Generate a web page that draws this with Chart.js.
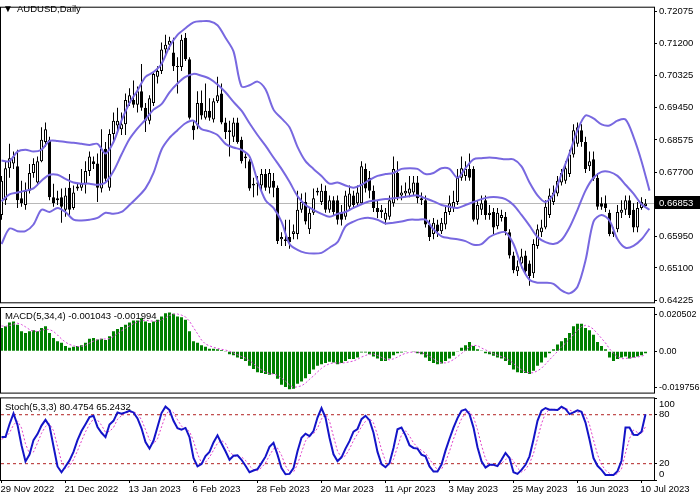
<!DOCTYPE html>
<html>
<head>
<meta charset="utf-8">
<script src="https://cdn.jsdelivr.net/npm/chart.js@4.4.0/dist/chart.umd.min.js"></script>
<style>
html, body { margin: 0; padding: 0; background: #fff; }
#wrap { position: relative; width: 700px; height: 500px; overflow: hidden; }
canvas { position: absolute; left: 0; }
</style>
</head>
<body>
<div id="wrap">
  <canvas id="main" width="700" height="310" style="top:0px"></canvas>
  <canvas id="macd" width="700" height="100" style="top:300px"></canvas>
  <canvas id="stoch" width="700" height="115" style="top:385px"></canvas>
</div>
<script>
// ---- data ----
const dateLabels = ['29 Nov 2022', '21 Dec 2022', '13 Jan 2023', '6 Feb 2023', '28 Feb 2023', '20 Mar 2023',
  '11 Apr 2023', '3 May 2023', '25 May 2023', '16 Jun 2023', '10 Jul 2023'];
const dateTickIdx = [0, 16, 32, 48, 64, 80, 96, 112, 128, 144, 160];

const priceTicks = [0.72075, 0.71200, 0.70325, 0.69450, 0.68575, 0.67700, 0.65950, 0.65100, 0.64225];
const lastPrice = 0.66853;

const opens = [.6654,.6694,.6781,.6794,.6786,.6699,.6681,.6720,.6768,.6742,
  .6800,.6852,.6858,.6702,.6694,.6702,.6668,.6728,.6673,.6726,
  .6728,.6739,.6773,.6800,.6794,.6726,.6834,.6728,.6874,.6897,
  .6887,.6900,.6958,.6966,.6953,.6990,.6945,.6910,.6958,.7029,
  .7045,.7103,.7116,.7095,.7058,.7056,.7135,.7077,.6897,.6897,
  .6958,.6918,.6937,.6913,.6963,.6984,.6905,.6884,.6866,.6905,
  .6858,.6808,.6800,.6734,.6739,.6734,.6765,.6728,.6747,.6728,
  .6588,.6588,.6594,.6602,.6602,.6668,.6689,.6615,.6660,.6715,
  .6689,.6720,.6668,.6694,.6694,.6660,.6649,.6676,.6707,.6686,
  .6686,.6779,.6755,.6720,.6673,.6662,.6641,.6649,.6686,.6768,
  .6707,.6712,.6712,.6715,.6742,.6699,.6694,.6628,.6602,.6628,
  .6610,.6628,.6662,.6673,.6689,.6755,.6760,.6779,.6779,.6641,
  .6668,.6694,.6654,.6662,.6623,.6646,.6649,.6607,.6544,.6501,
  .6522,.6544,.6522,.6496,.6570,.6607,.6620,.6654,.6689,.6712,
  .6742,.6747,.6765,.6818,.6847,.6884,.6852,.6786,.6805,.6755,
  .6686,.6686,.6660,.6610,.6615,.6660,.6668,.6694,.6668,.6620,
  .6673,.6678];
const highs = [.6760,.6800,.6847,.6826,.6831,.6747,.6742,.6792,.6808,.6813,
  .6892,.6905,.6866,.6739,.6720,.6726,.6728,.6765,.6734,.6739,
  .6779,.6800,.6826,.6813,.6821,.6887,.6852,.6887,.6932,.6945,
  .6932,.6984,.6998,.7019,.7003,.7064,.6958,.6979,.7045,.7058,
  .7122,.7143,.7138,.7135,.7082,.7143,.7148,.7082,.6910,.6990,
  .6992,.7011,.6971,.6971,.7029,.7011,.6918,.6910,.6918,.6918,
  .6866,.6821,.6805,.6755,.6760,.6779,.6779,.6779,.6768,.6734,
  .6607,.6641,.6641,.6628,.6720,.6712,.6715,.6673,.6726,.6728,
  .6739,.6734,.6707,.6705,.6707,.6681,.6720,.6734,.6720,.6734,
  .6800,.6794,.6773,.6734,.6694,.6681,.6673,.6707,.6813,.6800,
  .6734,.6742,.6760,.6760,.6760,.6715,.6707,.6641,.6646,.6641,
  .6646,.6681,.6707,.6720,.6779,.6813,.6800,.6821,.6786,.6694,
  .6707,.6707,.6681,.6673,.6673,.6668,.6662,.6615,.6554,.6530,
  .6562,.6557,.6530,.6588,.6628,.6641,.6694,.6726,.6734,.6760,
  .6779,.6800,.6831,.6900,.6905,.6900,.6866,.6826,.6826,.6768,
  .6702,.6707,.6668,.6620,.6681,.6694,.6707,.6707,.6686,.6689,
  .6702,.6697];
const lows = [.6641,.6681,.6755,.6779,.6673,.6676,.6668,.6712,.6755,.6734,
  .6797,.6839,.6694,.6676,.6681,.6633,.6649,.6654,.6668,.6720,
  .6720,.6712,.6760,.6779,.6689,.6715,.6742,.6720,.6852,.6884,
  .6871,.6871,.6950,.6945,.6932,.6937,.6879,.6900,.6950,.7011,
  .7037,.7090,.7103,.7045,.6984,.7045,.7072,.6913,.6858,.6887,
  .6913,.6913,.6910,.6905,.6958,.6900,.6860,.6813,.6852,.6847,
  .6794,.6781,.6720,.6702,.6707,.6720,.6720,.6712,.6702,.6575,
  .6570,.6570,.6562,.6588,.6588,.6660,.6628,.6602,.6654,.6707,
  .6681,.6660,.6660,.6654,.6628,.6625,.6641,.6668,.6673,.6676,
  .6681,.6715,.6699,.6662,.6646,.6646,.6628,.6641,.6676,.6694,
  .6694,.6702,.6702,.6707,.6686,.6681,.6620,.6583,.6588,.6594,
  .6602,.6615,.6654,.6662,.6681,.6747,.6747,.6747,.6636,.6628,
  .6654,.6641,.6641,.6602,.6615,.6636,.6599,.6536,.6496,.6488,
  .6509,.6493,.6462,.6483,.6562,.6594,.6615,.6646,.6681,.6705,
  .6734,.6739,.6757,.6810,.6839,.6839,.6768,.6773,.6747,.6668,
  .6668,.6662,.6596,.6594,.6607,.6646,.6654,.6646,.6607,.6607,
  .6668,.6673];
const closes = [.6747,.6781,.6808,.6813,.6694,.6686,.6720,.6768,.6792,.6800,
  .6858,.6887,.6702,.6686,.6699,.6676,.6707,.6668,.6715,.6731,
  .6739,.6773,.6813,.6792,.6728,.6834,.6752,.6874,.6910,.6910,
  .6900,.6966,.6979,.6953,.6990,.6945,.6910,.6971,.7037,.7045,
  .7103,.7116,.7127,.7058,.7056,.7130,.7077,.6918,.6884,.6958,
  .6924,.6937,.6918,.6963,.6979,.6905,.6879,.6879,.6905,.6852,
  .6800,.6813,.6726,.6739,.6742,.6765,.6728,.6768,.6728,.6583,
  .6594,.6583,.6580,.6610,.6668,.6689,.6636,.6660,.6699,.6720,
  .6720,.6668,.6694,.6662,.6641,.6641,.6707,.6712,.6681,.6715,
  .6786,.6726,.6720,.6673,.6662,.6668,.6660,.6694,.6779,.6702,
  .6715,.6720,.6726,.6742,.6699,.6694,.6628,.6594,.6633,.6610,
  .6633,.6662,.6686,.6689,.6755,.6781,.6779,.6755,.6641,.6681,
  .6686,.6654,.6660,.6620,.6660,.6654,.6610,.6544,.6504,.6515,
  .6541,.6501,.6488,.6575,.6615,.6620,.6676,.6707,.6715,.6747,
  .6768,.6781,.6818,.6884,.6892,.6852,.6779,.6800,.6752,.6676,
  .6676,.6673,.6602,.6602,.6662,.6668,.6694,.6654,.6620,.6673,
  .6689,.66853];

// Bollinger bands, read every 2nd bar (bar 0, 2, 4 ... 162)
const BAND_STEP = 2;
const bandUpper = [.6802,.6800,.6826,.6831,.6826,.6831,.6855,.6855,.6852,.6850,
  .6847,.6844,.6847,.6821,.6852,.6910,.6958,.6992,.7029,.7042,
  .7064,.7111,.7143,.7161,.7177,.7180,.7180,.7169,.7135,.7098,
  .7003,.7006,.7016,.6995,.6940,.6916,.6892,.6839,.6800,.6779,
  .6760,.6739,.6742,.6734,.6728,.6736,.6749,.6760,.6765,.6768,
  .6779,.6781,.6779,.6765,.6768,.6781,.6779,.6755,.6781,.6805,
  .6808,.6810,.6808,.6805,.6805,.6786,.6742,.6707,.6689,.6710,
  .6765,.6821,.6884,.6924,.6916,.6900,.6897,.6910,.6913,.6866,
  .6800,.6720];
const bandMiddle = [.6691,.6710,.6715,.6720,.6726,.6747,.6763,.6763,.6752,.6742,
  .6739,.6739,.6736,.6742,.6773,.6818,.6860,.6889,.6913,.6940,
  .6955,.6987,.7011,.7029,.7037,.7032,.7024,.7008,.6987,.6961,
  .6937,.6903,.6871,.6842,.6810,.6779,.6744,.6705,.6681,.6668,
  .6657,.6649,.6657,.6662,.6673,.6683,.6691,.6694,.6697,.6699,
  .6702,.6705,.6707,.6699,.6691,.6681,.6676,.6673,.6681,.6689,
  .6697,.6702,.6702,.6697,.6681,.6654,.6625,.6594,.6580,.6575,
  .6586,.6620,.6668,.6720,.6755,.6771,.6771,.6760,.6736,.6712,
  .6683,.6668];
const bandLower = [.6575,.6617,.6610,.6610,.6628,.6668,.6662,.6673,.6662,.6641,
  .6639,.6641,.6646,.6660,.6657,.6662,.6681,.6702,.6726,.6768,
  .6831,.6863,.6884,.6903,.6910,.6887,.6881,.6871,.6847,.6837,
  .6831,.6813,.6747,.6694,.6673,.6636,.6575,.6559,.6551,.6549,
  .6551,.6565,.6580,.6623,.6636,.6644,.6646,.6641,.6631,.6633,
  .6636,.6641,.6641,.6641,.6615,.6596,.6591,.6588,.6583,.6573,
  .6575,.6594,.6604,.6607,.6575,.6515,.6478,.6470,.6470,.6467,
  .6449,.6441,.6459,.6530,.6636,.6654,.6639,.6588,.6565,.6570,
  .6588,.6617];

const macdHist = [0.0129,0.0138,0.0159,0.0165,0.0147,0.0111,0.0101,0.0111,0.0116,0.0111,
  0.0129,0.0138,0.0101,0.0074,0.0056,0.0047,0.0029,0.0020,0.0025,0.0029,
  0.0033,0.0047,0.0069,0.0074,0.0065,0.0069,0.0062,0.0083,0.0111,0.0123,
  0.0134,0.0147,0.0159,0.0170,0.0170,0.0183,0.0165,0.0156,0.0165,0.0174,
  0.0192,0.0210,0.0214,0.0207,0.0192,0.0188,0.0174,0.0111,0.0056,0.0047,
  0.0033,0.0025,0.0014,0.0014,0.0011,0.0007,-0.0004,-0.0016,-0.0022,-0.0034,
  -0.0043,-0.0053,-0.0080,-0.0098,-0.0116,-0.0120,-0.0125,-0.0130,-0.0125,-0.0152,
  -0.0185,-0.0197,-0.0210,-0.0207,-0.0179,-0.0167,-0.0149,-0.0125,-0.0101,-0.0080,
  -0.0071,-0.0065,-0.0058,-0.0062,-0.0071,-0.0065,-0.0053,-0.0043,-0.0043,-0.0034,
  -0.0007,-0.0007,-0.0016,-0.0029,-0.0040,-0.0053,-0.0053,-0.0040,-0.0022,-0.0011,
  -0.0007,-0.0004,-0.0002,-0.0004,-0.0011,-0.0016,-0.0034,-0.0053,-0.0065,-0.0071,
  -0.0067,-0.0053,-0.0040,-0.0025,-0.0004,0.0020,0.0033,0.0051,0.0029,0.0011,
  0.0002,-0.0011,-0.0016,-0.0025,-0.0034,-0.0040,-0.0053,-0.0076,-0.0101,-0.0116,
  -0.0120,-0.0120,-0.0125,-0.0107,-0.0080,-0.0062,-0.0034,-0.0011,0.0011,0.0038,
  0.0056,0.0074,0.0101,0.0138,0.0152,0.0152,0.0129,0.0116,0.0092,0.0051,
  0.0029,0.0011,-0.0034,-0.0053,-0.0043,-0.0034,-0.0029,-0.0040,-0.0034,-0.0029,
  -0.0022,-0.001043];
const macdSignal = [0.0140,0.0138,0.0142,0.0150,0.0155,0.0148,0.0135,0.0120,0.0110,0.0110,
  0.0115,0.0122,0.0120,0.0110,0.0090,0.0068,0.0050,0.0038,0.0030,0.0026,
  0.0027,0.0033,0.0045,0.0056,0.0064,0.0068,0.0068,0.0070,0.0082,0.0097,
  0.0113,0.0128,0.0140,0.0153,0.0162,0.0170,0.0172,0.0168,0.0167,0.0165,
  0.0172,0.0185,0.0198,0.0206,0.0206,0.0200,0.0190,0.0166,0.0131,0.0097,
  0.0062,0.0040,0.0030,0.0022,0.0016,0.0011,0.0007,0.0000,-0.0009,-0.0019,
  -0.0029,-0.0038,-0.0052,-0.0068,-0.0087,-0.0103,-0.0115,-0.0123,-0.0125,-0.0133,
  -0.0148,-0.0165,-0.0186,-0.0200,-0.0196,-0.0191,-0.0176,-0.0155,-0.0136,-0.0114,
  -0.0094,-0.0079,-0.0069,-0.0064,-0.0064,-0.0065,-0.0063,-0.0058,-0.0054,-0.0044,
  -0.0032,-0.0023,-0.0016,-0.0015,-0.0023,-0.0034,-0.0044,-0.0047,-0.0042,-0.0032,
  -0.0020,-0.0011,-0.0006,-0.0004,-0.0005,-0.0008,-0.0016,-0.0028,-0.0042,-0.0056,
  -0.0064,-0.0064,-0.0058,-0.0046,-0.0030,-0.0012,0.0006,0.0025,0.0033,0.0031,
  0.0018,0.0008,-0.0003,-0.0013,-0.0022,-0.0029,-0.0038,-0.0051,-0.0067,-0.0087,
  -0.0103,-0.0114,-0.0120,-0.0118,-0.0108,-0.0094,-0.0071,-0.0047,-0.0024,-0.0001,
  0.0024,0.0045,0.0067,0.0092,0.0116,0.0136,0.0143,0.0137,0.0122,0.0097,
  0.0072,0.0046,0.0014,-0.0012,-0.0030,-0.0041,-0.0040,-0.0036,-0.0035,-0.0032,
  -0.0027,-0.001994];
const macdTicks = [0.020502, 0, -0.019756];
const macdTickLabels = ['0.020502', '0.00', '-0.019756'];

const stochMain = [52.6,52.6,68.3,81.6,67.5,42.6,22.8,31.1,48.9,56.3,
  66.7,73.7,66.3,41.4,16.6,9.5,16.6,24.0,34.4,48.9,
  60.0,68.3,77.0,78.7,65.0,57.9,52.6,67.9,72.5,82.8,
  81.2,82.8,84.9,82.8,75.4,63.4,46.4,38.5,48.0,65.0,
  82.0,89.9,85.7,72.5,63.4,61.7,63.8,52.6,26.9,16.6,
  19.5,29.4,34.4,46.0,54.7,44.7,35.2,24.8,29.8,30.2,
  24.8,17.4,9.5,11.6,13.3,20.7,28.6,40.6,45.5,31.1,
  14.5,7.0,7.5,14.5,35.2,51.8,56.7,53.8,60.0,76.6,
  88.2,76.6,51.8,31.5,23.2,27.8,38.5,47.6,59.2,62.5,
  74.5,78.7,73.3,58.0,34.4,19.5,15.7,20.7,39.3,62.1,
  64.2,54.7,42.6,39.3,38.5,31.1,29.0,16.6,10.4,10.4,
  19.0,36.0,50.5,64.2,75.8,84.9,86.5,80.7,64.2,40.2,
  22.8,15.3,18.6,18.6,17.0,24.8,33.1,26.9,9.5,7.5,
  12.4,18.6,29.0,49.7,72.5,84.9,88.2,86.1,86.1,85.7,
  89.9,87.0,80.7,82.8,85.3,83.6,70.4,49.7,26.9,17.4,
  12.4,6.2,6.2,6.2,10.8,23.6,64.2,64.2,55.5,55.1,
  59.2,80.4754];
const stochSignal = [50.0,52.0,57.8,67.5,72.5,63.9,44.3,32.2,34.3,45.4,
  57.3,65.6,68.9,60.5,41.4,22.5,14.2,16.7,25.0,35.8,
  47.8,59.1,68.4,74.7,73.6,67.2,58.5,59.5,64.3,74.4,
  78.8,82.3,83.0,83.5,81.0,73.9,61.7,49.4,44.3,50.5,
  65.0,79.0,85.9,82.7,73.9,65.9,63.0,59.4,47.8,32.0,
  21.0,21.8,27.8,36.6,45.0,48.5,44.9,34.9,29.9,28.3,
  28.3,24.1,17.2,12.8,11.5,15.2,20.9,30.0,38.2,39.1,
  30.4,17.5,9.7,9.7,19.1,33.8,47.9,54.1,56.8,63.5,
  74.9,80.5,72.2,53.3,35.5,27.5,29.8,38.0,48.4,56.4,
  65.4,71.9,75.5,70.0,55.2,37.3,23.2,18.6,25.2,40.7,
  55.2,60.3,53.8,45.5,40.1,36.3,32.9,25.6,18.7,12.5,
  13.3,21.8,35.2,50.2,63.5,75.0,82.4,84.0,77.1,61.7,
  42.4,26.1,18.9,17.5,18.1,20.1,25.0,28.3,23.2,14.6,
  9.8,12.8,20.0,32.4,50.4,69.0,81.9,86.4,86.8,86.0,
  87.2,87.5,85.9,83.5,82.9,83.9,79.8,67.9,49.0,31.3,
  18.9,12.0,8.3,6.2,7.7,13.5,32.9,50.7,61.3,58.3,
  56.6,65.2432];
const stochTicks = [100, 80, 20, 0];
const stochLevels = [80, 20];

// ---- look ----
const FONT = "'Liberation Sans', Arial, 'DejaVu Sans', sans-serif";
const FS = 9.5;
const X_MIN = -0.125, X_MAX = 163.125;
const P_MAX = 0.72167, P_MIN = 0.64168;
const M_MAX = 0.023913, M_MIN = -0.022826;
const BAND = '#7868e0';

const idx = closes.map((_, i) => i);

function xScale(show) {
  const s = {
    type: 'linear', min: X_MIN, max: X_MAX, offset: false, bounds: 'data',
    display: show,
    grid: { drawOnChartArea: false, drawTicks: true, tickLength: 3, color: '#000' },
    border: { display: false }
  };
  if (show) {
    s.afterBuildTicks = sc => { sc.ticks = dateTickIdx.map(v => ({ value: v })); };
    s.afterFit = sc => { sc.height = 20; sc.paddingLeft = 0; sc.paddingRight = 0; };
    s.ticks = {
      autoSkip: false, maxRotation: 0, minRotation: 0, align: 'start', labelOffset: -1,
      padding: 1, color: '#000', font: { family: FONT, size: FS },
      callback: (v, i) => dateLabels[i]
    };
  }
  return s;
}

function yScale(min, max, ticks, fmt, size) {
  return {
    position: 'right', min: min, max: max, bounds: 'data',
    afterBuildTicks: sc => { sc.ticks = ticks.map(v => ({ value: v })); },
    afterFit: sc => { sc.width = 46; },
    ticks: { padding: 2, color: '#000', font: { family: FONT, size: size || FS }, callback: fmt },
    grid: { drawOnChartArea: false, drawTicks: true, tickLength: 3, color: '#000' },
    border: { display: false }
  };
}

const frame = {
  id: 'frame',
  afterDraw(chart) {
    const { ctx, chartArea: a } = chart;
    ctx.save();
    ctx.strokeStyle = '#000';
    ctx.lineWidth = 1;
    ctx.strokeRect(a.left - 0.5, a.top - 0.5, a.right - a.left + 1, a.bottom - a.top + 1);
    ctx.restore();
  }
};

// y is relative to the panel's own canvas
function caption(text, x, y) {
  return {
    id: 'caption',
    afterDraw(chart) {
      const ctx = chart.ctx;
      ctx.save();
      ctx.fillStyle = '#000';
      ctx.font = FS + 'px ' + FONT;
      ctx.textBaseline = 'middle';
      ctx.fillText(text, x, y);
      ctx.restore();
    }
  };
}

const priceLine = {
  id: 'priceLine',
  beforeDatasetsDraw(chart) {
    const { ctx, chartArea: a, scales } = chart;
    const y = Math.round(scales.y.getPixelForValue(lastPrice)) + 0.5;
    ctx.save();
    ctx.strokeStyle = '#b8b8b8';
    ctx.lineWidth = 1;
    ctx.beginPath();
    ctx.moveTo(a.left, y);
    ctx.lineTo(a.right, y);
    ctx.stroke();
    ctx.restore();
  },
  afterDraw(chart) {
    const { ctx, chartArea: a, scales } = chart;
    const y = Math.round(scales.y.getPixelForValue(lastPrice));
    ctx.save();
    ctx.fillStyle = '#000';
    ctx.fillRect(a.right + 1, y - 7, 700 - a.right - 1, 13);
    ctx.fillStyle = '#fff';
    ctx.font = FS + 'px ' + FONT;
    ctx.textBaseline = 'middle';
    ctx.fillText(lastPrice.toFixed(5), a.right + 5, y);
    // symbol title
    ctx.fillStyle = '#000';
    ctx.font = '10px ' + FONT;
    ctx.fillText('\u25BC', 3, 9);
    ctx.font = FS + 'px ' + FONT;
    ctx.fillText('AUDUSD,Daily', 17, 9);
    ctx.restore();
  }
};

const common = {
  responsive: false, animation: false, devicePixelRatio: 1,
  plugins: { legend: { display: false }, tooltip: { enabled: false } }
};

// ---- main price panel ----
new Chart(document.getElementById('main'), {
  type: 'bar',
  data: {
    datasets: [
      { type: 'line', data: bandUpper.map((v, k) => ({ x: k * BAND_STEP, y: v })), borderColor: BAND, borderWidth: 2, pointRadius: 0, tension: 0.3, order: 1 },
      { type: 'line', data: bandMiddle.map((v, k) => ({ x: k * BAND_STEP, y: v })), borderColor: BAND, borderWidth: 2, pointRadius: 0, tension: 0.3, order: 1 },
      { type: 'line', data: bandLower.map((v, k) => ({ x: k * BAND_STEP, y: v })), borderColor: BAND, borderWidth: 2, pointRadius: 0, tension: 0.3, order: 1 },
      { data: idx.map(i => ({ x: i, y: [opens[i], closes[i]] })),
        backgroundColor: idx.map(i => closes[i] >= opens[i] ? '#fff' : '#000'),
        borderColor: '#000', borderWidth: 1, borderSkipped: false, barThickness: 3,
        grouped: false, minBarLength: 1, inflateAmount: 0, order: 2 },
      { data: idx.map(i => ({ x: i, y: [lows[i], highs[i]] })),
        backgroundColor: '#000', borderWidth: 0, barThickness: 1,
        grouped: false, inflateAmount: 0, order: 3 }
    ]
  },
  options: Object.assign({}, common, {
    layout: { padding: { left: 1, top: 2, right: 0, bottom: 5 } },
    scales: {
      x: xScale(false),
      y: yScale(P_MIN, P_MAX, priceTicks, v => v.toFixed(5))
    }
  }),
  plugins: [priceLine, frame]
});

// ---- MACD panel ----
new Chart(document.getElementById('macd'), {
  type: 'bar',
  data: {
    datasets: [
      { type: 'line', data: idx.map(i => ({ x: i, y: macdSignal[i] })), borderColor: '#d946d9', borderWidth: 1, borderDash: [2, 2], pointRadius: 0, order: 1 },
      { data: idx.map(i => ({ x: i, y: macdHist[i] })), backgroundColor: '#008000', borderWidth: 0, barThickness: 3, grouped: false, inflateAmount: 0, order: 2 }
    ]
  },
  options: Object.assign({}, common, {
    layout: { padding: { left: 1, top: 8, right: 0, bottom: 6 } },
    scales: {
      x: xScale(false),
      y: yScale(M_MIN, M_MAX, macdTicks, (v, i) => macdTickLabels[i], 9)
    }
  }),
  plugins: [frame, caption('MACD(5,34,4) -0.001043 -0.001994', 5, 16)]
});

// ---- Stochastic panel ----
new Chart(document.getElementById('stoch'), {
  type: 'line',
  data: {
    datasets: [
      { data: idx.map(i => ({ x: i, y: stochMain[i] })), borderColor: '#1414c8', borderWidth: 2, pointRadius: 0, order: 1 },
      { data: idx.map(i => ({ x: i, y: stochSignal[i] })), borderColor: '#e040c8', borderWidth: 1, borderDash: [2, 2], pointRadius: 0, order: 2 },
      { data: [{ x: X_MIN, y: stochLevels[0] }, { x: X_MAX, y: stochLevels[0] }], borderColor: '#b22222', borderWidth: 1, borderDash: [3, 3], pointRadius: 0, order: 3 },
      { data: [{ x: X_MIN, y: stochLevels[1] }, { x: X_MAX, y: stochLevels[1] }], borderColor: '#b22222', borderWidth: 1, borderDash: [3, 3], pointRadius: 0, order: 3 }
    ]
  },
  options: Object.assign({}, common, {
    layout: { padding: { left: 1, top: 13, right: 0, bottom: 0 } },
    scales: {
      x: xScale(true),
      y: yScale(0, 100, stochTicks, v => v === 100 ? ['', '100'] : (v === 0 ? ['0', ''] : String(v)))
    }
  }),
  plugins: [frame, caption('Stoch(5,3,3) 80.4754 65.2432', 5, 22)]
});
</script>
</body>
</html>
